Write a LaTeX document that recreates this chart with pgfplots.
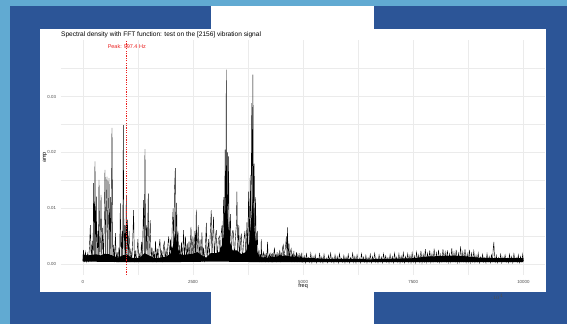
\documentclass[border=0pt]{standalone}
\usepackage{pgfplots}
\pgfplotsset{compat=1.18}
\usepackage{fontspec}
\setmainfont{Liberation Sans}
\definecolor{darkblue}{RGB}{44,85,151}
\definecolor{lightblue}{RGB}{97,170,210}
\definecolor{gridgrey}{RGB}{235,235,235}
\definecolor{ticklab}{RGB}{77,77,77}
\definecolor{peakred}{RGB}{235,30,30}
\begin{document}
\begin{tikzpicture}
\useasboundingbox (0,0) rectangle (567bp,324bp);
\fill[darkblue] (0,0) rectangle (567bp,324bp);
\fill[lightblue] (0,0) rectangle (10bp,324bp);
\fill[lightblue] (0,318bp) rectangle (567bp,324bp);
\fill[white] (210.5bp,294.7bp) rectangle (374.3bp,318bp);
\fill[white] (40bp,31.7bp) rectangle (546bp,294.7bp);
\fill[white] (210.5bp,0) rectangle (374.3bp,31.7bp);
\node[anchor=base west, inner sep=0, font=\fontsize{6.6}{7.5}\selectfont] at (61bp,287bp)
  {Spectral density with FFT function: test on the [2156] vibration signal};
\begin{axis}[
  at={(60.8bp,49bp)}, anchor=south west, scale only axis,
  width=484.6bp, height=235bp,
  xmin=-500, xmax=10500, ymin=-0.0019, ymax=0.0401,
  axis line style={draw=none}, tick style={draw=none},
  grid=both,
  major grid style={color=gridgrey, line width=0.5bp},
  minor grid style={color=gridgrey, line width=0.27bp},
  xtick={0,2500,5000,7500,10000},
  xticklabels={0,2500,5000,7500,10000},
  minor xtick={1250,3750,6250,8750},
  ytick={0,0.01,0.02,0.03},
  yticklabels={0.00,0.01,0.02,0.03},
  minor ytick={0.005,0.015,0.025,0.035},
  scaled y ticks=false,
  ticklabel style={font=\fontsize{4.4}{5}\selectfont, text=ticklab},
  x tick label style={yshift=-1.9bp},
  y tick label style={xshift=-1.3bp},
  xlabel={freq}, ylabel={amp},
  label style={font=\fontsize{5.5}{6}\selectfont},
  xlabel style={at={(axis description cs:0.5,-0.047)}, anchor=center},
  ylabel style={at={(axis description cs:-0.0326,0.5)}, anchor=center},
  clip=true,
]
% dense core of the noise band
\addplot[fill=black, draw=none] coordinates {
(0,0.0018) (100,0.0016) (200,0.0017) (300,0.0018) (400,0.0016) (500,0.0019)
(600,0.0018) (700,0.0015) (800,0.0012) (900,0.0016) (1000,0.0018) (1100,0.0012)
(1200,0.0011) (1300,0.0012) (1400,0.0020) (1500,0.0016) (1600,0.0012) (1700,0.0011)
(1800,0.0013) (1900,0.0014) (2000,0.0020) (2050,0.0035) (2099,0.0060) (2150,0.0030)
(2200,0.0018) (2300,0.0017) (2400,0.0018) (2500,0.0019) (2600,0.0022) (2700,0.0016)
(2800,0.0012) (2900,0.0020) (3000,0.0020) (3100,0.0022) (3180,0.0040) (3230,0.0090)
(3256,0.0140) (3290,0.0080) (3340,0.0040) (3400,0.0025) (3500,0.0025) (3600,0.0018)
(3700,0.0022) (3780,0.0040) (3830,0.0090) (3861,0.0120) (3900,0.0060) (3950,0.0025)
(4000,0.0013) (4200,0.0012) (4400,0.0014) (4600,0.0016) (4800,0.0013) (5000,0.0012)
(5500,0.0010) (6000,0.0010) (6500,0.0009) (7000,0.0010) (7500,0.0011) (7800,0.0014)
(8200,0.0015) (8600,0.0015) (9000,0.0012) (9500,0.0011) (10000,0.0011)
(10000,0.0004) (9000,0.0004) (8000,0.0004) (7000,0.0004) (6000,0.0004) (5000,0.0004)
(4000,0.0004) (3000,0.0005) (2000,0.0004) (1000,0.0004) (0,0.0005)
} -- cycle;
% spectrum trace
\addplot[black, line width=0.4bp] coordinates {
(0,0.0006) (15,0.0026) (40,0.0004) (60,0.0022) (85,0.0005) (105,0.0019) (125,0.0004)
(150,0.0030) (170,0.0070) (190,0.0005) (210,0.0042) (230,0.0006) (245,0.0145) (260,0.0008)
(276,0.0184) (290,0.0010) (306,0.0121) (320,0.0007) (340,0.0060) (355,0.0009) (367,0.0151)
(385,0.0006) (400,0.0048) (413,0.0124) (430,0.0008) (450,0.0065) (470,0.0005) (490,0.0090)
(503,0.0169) (520,0.0010) (535,0.0110) (549,0.0157) (565,0.0009) (580,0.0080) (594,0.0154)
(610,0.0011) (624,0.0120) (640,0.0006) (662,0.0244) (680,0.0005) (700,0.0035) (720,0.0004)
(740,0.0056) (760,0.0004) (780,0.0022) (800,0.0004) (820,0.0030) (835,0.0005) (851,0.0109)
(870,0.0006) (890,0.0060) (905,0.0008) (919,0.0249) (935,0.0006) (955,0.0070) (970,0.0009)
(987,0.0124) (1000,0.0010) (1015,0.0080) (1030,0.0005) (1050,0.0060) (1070,0.0004)
(1090,0.0028) (1110,0.0005) (1130,0.0035) (1153,0.0097) (1170,0.0004) (1190,0.0025)
(1210,0.0004) (1230,0.0020) (1250,0.0045) (1270,0.0004) (1290,0.0018) (1310,0.0005)
(1330,0.0040) (1350,0.0007) (1380,0.0115) (1395,0.0010) (1411,0.0206) (1425,0.0012)
(1445,0.0070) (1460,0.0010) (1486,0.0127) (1500,0.0008) (1530,0.0079) (1550,0.0005)
(1570,0.0030) (1590,0.0004) (1610,0.0024) (1630,0.0005) (1650,0.0042) (1670,0.0004)
(1690,0.0028) (1710,0.0005) (1730,0.0030) (1750,0.0045) (1770,0.0005) (1790,0.0025)
(1810,0.0004) (1830,0.0032) (1850,0.0040) (1870,0.0005) (1890,0.0028) (1910,0.0006)
(1930,0.0035) (1950,0.0050) (1970,0.0006) (1990,0.0045) (2010,0.0008) (2030,0.0070)
(2050,0.0100) (2065,0.0015) (2080,0.0130) (2099,0.0172) (2110,0.0020) (2130,0.0110)
(2145,0.0012) (2160,0.0060) (2180,0.0006) (2200,0.0035) (2220,0.0005) (2240,0.0040)
(2260,0.0006) (2288,0.0061) (2305,0.0007) (2330,0.0050) (2350,0.0006) (2370,0.0038)
(2390,0.0006) (2410,0.0042) (2430,0.0008) (2455,0.0067) (2475,0.0007) (2500,0.0050)
(2520,0.0008) (2545,0.0060) (2560,0.0010) (2575,0.0098) (2590,0.0012) (2620,0.0070)
(2640,0.0006) (2660,0.0045) (2680,0.0005) (2704,0.0057) (2720,0.0005) (2740,0.0030)
(2760,0.0004) (2780,0.0028) (2804,0.0074) (2820,0.0006) (2850,0.0045) (2870,0.0008)
(2895,0.0060) (2915,0.0097) (2930,0.0009) (2950,0.0055) (2968,0.0085) (2985,0.0009)
(3010,0.0050) (3030,0.0061) (3050,0.0008) (3075,0.0045) (3100,0.0050) (3120,0.0007)
(3140,0.0055) (3160,0.0070) (3175,0.0010) (3190,0.0100) (3200,0.0120) (3215,0.0030)
(3230,0.0205) (3245,0.0060) (3256,0.0348) (3265,0.0080) (3280,0.0200) (3290,0.0050)
(3309,0.0193) (3325,0.0020) (3350,0.0090) (3370,0.0012) (3395,0.0060) (3420,0.0060)
(3440,0.0008) (3465,0.0050) (3485,0.0070) (3498,0.0130) (3515,0.0010) (3540,0.0070)
(3560,0.0008) (3580,0.0045) (3600,0.0055) (3620,0.0006) (3650,0.0040) (3680,0.0060)
(3700,0.0010) (3725,0.0075) (3740,0.0015) (3763,0.0130) (3780,0.0030) (3800,0.0160)
(3815,0.0050) (3835,0.0288) (3848,0.0090) (3861,0.0339) (3875,0.0070) (3890,0.0180)
(3905,0.0030) (3920,0.0120) (3940,0.0015) (3960,0.0060) (3980,0.0006) (4000,0.0025)
(4010,0.0004) (4025,0.0018) (4040,0.0005) (4050,0.0045) (4065,0.0004) (4080,0.0016)
(4100,0.0022) (4115,0.0005) (4130,0.0019) (4145,0.0004) (4160,0.0020) (4175,0.0006)
(4193,0.0040) (4210,0.0004) (4225,0.0014) (4240,0.0018) (4255,0.0005) (4270,0.0021)
(4285,0.0004) (4300,0.0020) (4315,0.0006) (4330,0.0016) (4350,0.0030) (4365,0.0005)
(4380,0.0019) (4395,0.0004) (4410,0.0022) (4425,0.0006) (4440,0.0017) (4455,0.0005)
(4470,0.0026) (4485,0.0004) (4500,0.0021) (4515,0.0006) (4530,0.0028) (4550,0.0035)
(4565,0.0006) (4580,0.0022) (4600,0.0030) (4620,0.0050) (4635,0.0010) (4647,0.0066)
(4660,0.0010) (4680,0.0038) (4695,0.0005) (4710,0.0023) (4730,0.0028) (4745,0.0004)
(4760,0.0019) (4775,0.0005) (4790,0.0024) (4805,0.0004) (4820,0.0017) (4835,0.0005)
(4850,0.0022) (4865,0.0004) (4880,0.0016) (4895,0.0005) (4910,0.0020) (4925,0.0004)
(4940,0.0015) (4955,0.0006) (4970,0.0021) (4985,0.0004)
(5000,0.0005) (5025,0.0015) (5050,0.0003) (5075,0.0019) (5100,0.0006) (5125,0.0012)
(5150,0.0004) (5175,0.0020) (5200,0.0003) (5225,0.0014) (5250,0.0005) (5275,0.0017)
(5300,0.0003) (5325,0.0011) (5350,0.0006) (5375,0.0019) (5400,0.0004) (5425,0.0013)
(5450,0.0003) (5475,0.0018) (5500,0.0005) (5525,0.0011) (5550,0.0003) (5575,0.0016)
(5600,0.0006) (5625,0.0020) (5650,0.0004) (5675,0.0012) (5700,0.0003) (5725,0.0017)
(5750,0.0005) (5775,0.0014) (5800,0.0003) (5825,0.0019) (5850,0.0006) (5875,0.0011)
(5900,0.0004) (5925,0.0016) (5950,0.0003) (5975,0.0013) (6000,0.0005) (6025,0.0018)
(6050,0.0003) (6075,0.0012) (6100,0.0006) (6125,0.0020) (6150,0.0004) (6175,0.0014)
(6200,0.0003) (6225,0.0017) (6250,0.0005) (6275,0.0011) (6300,0.0003) (6325,0.0019)
(6350,0.0006) (6375,0.0013) (6400,0.0004) (6425,0.0016) (6450,0.0003) (6475,0.0012)
(6500,0.0005) (6525,0.0018) (6550,0.0003) (6575,0.0014) (6600,0.0006) (6625,0.0020)
(6650,0.0004) (6675,0.0011) (6700,0.0003) (6725,0.0017) (6750,0.0005) (6775,0.0013)
(6800,0.0003) (6825,0.0019) (6850,0.0006) (6875,0.0015) (6900,0.0004) (6925,0.0012)
(6950,0.0003) (6975,0.0018) (7000,0.0005) (7025,0.0014) (7050,0.0003) (7075,0.0020)
(7100,0.0006) (7125,0.0013) (7150,0.0004) (7175,0.0019) (7200,0.0003) (7225,0.0015)
(7250,0.0005) (7275,0.0021) (7300,0.0003) (7325,0.0014) (7350,0.0006) (7375,0.0019)
(7400,0.0004) (7425,0.0016) (7450,0.0003) (7475,0.0021) (7500,0.0005) (7525,0.0015)
(7550,0.0003) (7575,0.0022) (7600,0.0006) (7625,0.0017) (7650,0.0004) (7675,0.0024)
(7700,0.0003) (7725,0.0018) (7750,0.0005) (7775,0.0027) (7800,0.0004) (7825,0.0020)
(7850,0.0006) (7875,0.0025) (7900,0.0004) (7925,0.0019) (7950,0.0005) (7975,0.0028)
(8000,0.0004) (8025,0.0021) (8050,0.0006) (8075,0.0026) (8100,0.0004) (8125,0.0018)
(8150,0.0005) (8175,0.0027) (8200,0.0004) (8225,0.0022) (8250,0.0006) (8275,0.0025)
(8300,0.0004) (8325,0.0019) (8350,0.0005) (8375,0.0029) (8400,0.0004) (8425,0.0021)
(8450,0.0006) (8475,0.0026) (8500,0.0004) (8525,0.0020) (8550,0.0005) (8575,0.0032)
(8600,0.0004) (8625,0.0022) (8650,0.0006) (8675,0.0027) (8700,0.0004) (8725,0.0019)
(8750,0.0005) (8775,0.0026) (8800,0.0004) (8825,0.0020) (8850,0.0006) (8875,0.0024)
(8900,0.0004) (8925,0.0016) (8950,0.0005) (8975,0.0020) (9000,0.0003) (9025,0.0013)
(9050,0.0006) (9075,0.0018) (9100,0.0004) (9125,0.0012) (9150,0.0003) (9175,0.0019)
(9200,0.0005) (9225,0.0014) (9250,0.0003) (9275,0.0017) (9300,0.0006) (9315,0.0028)
(9330,0.0040) (9345,0.0012) (9360,0.0004) (9385,0.0016) (9410,0.0003) (9435,0.0012)
(9460,0.0005) (9485,0.0018) (9510,0.0003) (9535,0.0013) (9560,0.0006) (9585,0.0017)
(9610,0.0004) (9635,0.0011) (9660,0.0003) (9685,0.0018) (9710,0.0005) (9735,0.0014)
(9760,0.0003) (9785,0.0019) (9810,0.0006) (9835,0.0012) (9860,0.0004) (9885,0.0017)
(9910,0.0003) (9935,0.0014) (9960,0.0005) (9985,0.0018) (10000,0.0006)
};
% peak marker
\draw[peakred, line width=0.6bp, dash pattern=on 1.2bp off 1.2bp]
  (axis cs:997.4,-0.0019) -- (axis cs:997.4,0.0401);
\node[anchor=base, inner sep=0, text=peakred, font=\fontsize{5.5}{6}\selectfont] at (axis cs:997.4,0.0385) {Peak: 997.4 Hz};
\end{axis}
\end{tikzpicture}
\end{document}
